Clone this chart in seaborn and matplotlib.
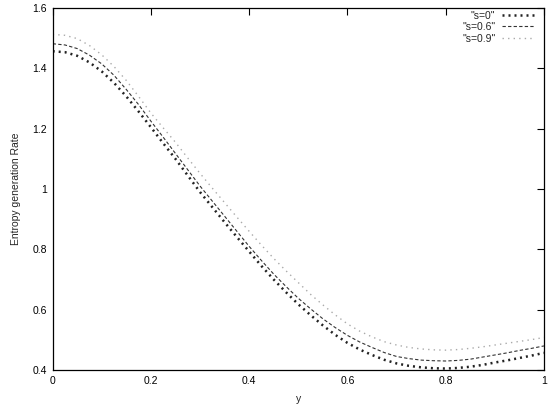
import numpy as np
import pandas as pd
import matplotlib
matplotlib.use("Agg")
import matplotlib.pyplot as plt
import seaborn as sns

# values (y from 0 to 1 in steps of 0.025)
y_pos = [0.000, 0.025, 0.050, 0.075, 0.100, 0.125, 0.150, 0.175, 0.200, 0.225,
         0.250, 0.275, 0.300, 0.325, 0.350, 0.375, 0.400, 0.425, 0.450, 0.475,
         0.500, 0.525, 0.550, 0.575, 0.600, 0.625, 0.650, 0.675, 0.700, 0.725,
         0.750, 0.775, 0.800, 0.825, 0.850, 0.875, 0.900, 0.925, 0.950, 0.975,
         1.000]
s0 = [1.457, 1.454, 1.442, 1.420, 1.390, 1.352, 1.307, 1.257, 1.205, 1.152,
      1.100, 1.045, 0.990, 0.940, 0.890, 0.841, 0.793, 0.745, 0.700, 0.658,
      0.618, 0.582, 0.548, 0.517, 0.490, 0.468, 0.450, 0.434, 0.422, 0.414,
      0.409, 0.406, 0.405, 0.407, 0.411, 0.417, 0.425, 0.432, 0.440, 0.448,
      0.457]
s06 = [1.482, 1.478, 1.466, 1.444, 1.415, 1.377, 1.330, 1.280, 1.225, 1.172,
       1.118, 1.064, 1.010, 0.960, 0.910, 0.860, 0.810, 0.763, 0.718, 0.677,
       0.638, 0.603, 0.570, 0.541, 0.515, 0.493, 0.475, 0.458, 0.445, 0.438,
       0.433, 0.431, 0.430, 0.432, 0.436, 0.443, 0.450, 0.457, 0.465, 0.472,
       0.480]
s09 = [1.513, 1.510, 1.499, 1.476, 1.445, 1.406, 1.360, 1.307, 1.252, 1.203,
       1.155, 1.103, 1.052, 1.003, 0.955, 0.907, 0.860, 0.814, 0.770, 0.729,
       0.690, 0.651, 0.616, 0.583, 0.553, 0.529, 0.510, 0.494, 0.483, 0.475,
       0.470, 0.467, 0.466, 0.468, 0.472, 0.477, 0.483, 0.489, 0.495, 0.501,
       0.508]
labels = ['"s=0"', '"s=0.6"', '"s=0.9"']
x_ticks = [0, 0.2, 0.4, 0.6, 0.8, 1.0]
x_ticklabels = ["0", "0.2", "0.4", "0.6", "0.8", "1"]
y_ticks = [0.4, 0.6, 0.8, 1.0, 1.2, 1.4, 1.6]
y_ticklabels = ["0.4", "0.6", "0.8", "1", "1.2", "1.4", "1.6"]

sns.set_style("white")
plt.rcParams['font.family'] = ['Liberation Sans', 'DejaVu Sans']

fig = plt.figure(figsize=(5.5, 4.08), dpi=100)
ax = fig.add_axes([0.0958, 0.093, 0.8932, 0.887])

df = pd.DataFrame({"y": y_pos, "s0": s0, "s06": s06, "s09": s09})

sns.lineplot(x="y", y="s0", data=df, ax=ax, color="#222222", linewidth=1.8,
             linestyle=(0, (0.8, 1.6)), label=labels[0])
sns.lineplot(x="y", y="s06", data=df, ax=ax, color="#333333", linewidth=0.8,
             linestyle=(0, (3, 2)), label=labels[1])
sns.lineplot(x="y", y="s09", data=df, ax=ax, color="#aaaaaa", linewidth=1.0,
             linestyle=(0, (1, 3)), label=labels[2])

ax.set_xlim(0, 1)
ax.set_ylim(0.4, 1.6)
ax.set_xticks(x_ticks)
ax.set_xticklabels(x_ticklabels)
ax.set_yticks(y_ticks)
ax.set_yticklabels(y_ticklabels)
ax.tick_params(direction="in", length=5, width=0.8, top=True, right=True,
               labelsize=7.5, pad=4, colors="black")
for sp in ax.spines.values():
    sp.set_visible(True)
    sp.set_color("black")
    sp.set_linewidth(0.9)

ax.set_xlabel("y", fontsize=7.5, labelpad=6)
ax.set_ylabel("Entropy generation Rate", fontsize=7.5, labelpad=8)

leg = ax.legend(loc="upper right", bbox_to_anchor=(0.99, 1.005), frameon=False,
                markerfirst=False, fontsize=7.5, handlelength=3.2,
                handletextpad=0.6, labelspacing=0.15, borderpad=0.2,
                borderaxespad=0.2)

fig.savefig("out.png", dpi=100)
